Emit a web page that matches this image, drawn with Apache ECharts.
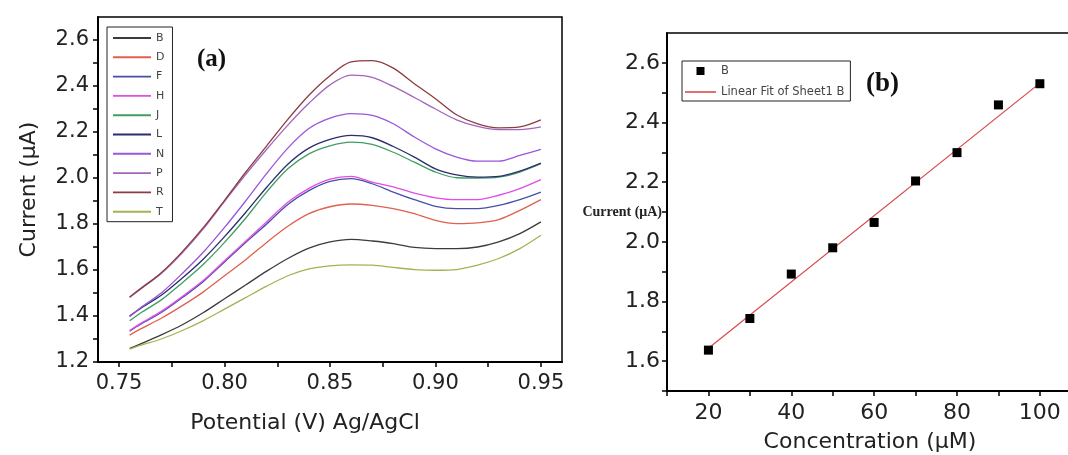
<!DOCTYPE html>
<html>
<head>
<meta charset="utf-8">
<script src="https://cdn.jsdelivr.net/npm/echarts@6/dist/echarts.min.js"></script>
<style>
html,body{margin:0;padding:0;background:#fff;}
#chart{width:1068px;height:455px;}
</style>
</head>
<body>
<div id="chart"></div>
<script>
// ---------- Panel (a) data ----------
const potential = [0.755,0.76,0.77,0.78,0.79,0.80,0.81,0.82,0.83,0.84,0.85,0.86,0.87,0.88,0.89,0.90,0.91,0.92,0.93,0.94,0.95];
const curveNames = ['B','D','F','H','J','L','N','P','R','T'];
const curveB = [1.259,1.278,1.318,1.362,1.415,1.475,1.535,1.595,1.650,1.695,1.722,1.733,1.726,1.715,1.698,1.693,1.693,1.700,1.722,1.758,1.809];
const curveD = [1.317,1.343,1.390,1.445,1.505,1.575,1.645,1.720,1.790,1.845,1.875,1.887,1.881,1.867,1.845,1.816,1.802,1.805,1.819,1.859,1.906];
const curveF = [1.334,1.363,1.415,1.480,1.550,1.635,1.720,1.800,1.885,1.945,1.985,1.997,1.975,1.939,1.906,1.877,1.867,1.867,1.881,1.906,1.939];
const curveH = [1.337,1.367,1.420,1.485,1.555,1.640,1.725,1.810,1.895,1.955,1.995,2.007,1.982,1.961,1.934,1.914,1.906,1.906,1.925,1.954,1.993];
const curveJ = [1.379,1.412,1.470,1.545,1.625,1.720,1.825,1.940,2.040,2.105,2.140,2.156,2.146,2.112,2.069,2.026,2.001,2.000,2.004,2.026,2.062];
const curveL = [1.400,1.432,1.490,1.565,1.648,1.745,1.850,1.960,2.060,2.130,2.168,2.185,2.175,2.137,2.091,2.040,2.014,2.004,2.007,2.030,2.065];
const curveN = [1.397,1.435,1.500,1.585,1.678,1.785,1.900,2.020,2.130,2.215,2.260,2.280,2.272,2.236,2.178,2.127,2.091,2.073,2.073,2.098,2.124];
const curveP = [1.480,1.515,1.585,1.675,1.780,1.898,2.015,2.125,2.230,2.325,2.405,2.447,2.438,2.398,2.350,2.300,2.253,2.224,2.210,2.210,2.222];
const curveR = [1.483,1.518,1.588,1.680,1.785,1.903,2.025,2.140,2.255,2.360,2.445,2.505,2.510,2.478,2.410,2.345,2.275,2.235,2.218,2.222,2.253];
const curveT = [1.256,1.272,1.300,1.337,1.380,1.430,1.480,1.530,1.575,1.605,1.618,1.622,1.621,1.611,1.602,1.599,1.602,1.621,1.650,1.693,1.751];
const curveValues = [curveB,curveD,curveF,curveH,curveJ,curveL,curveN,curveP,curveR,curveT];
const curveColors = ['#3c3c3c','#e0604f','#4a4fa6','#e04ee6','#3f9e62','#2c2c6e','#9a55dc','#a066bc','#8c3c3e','#a3b352'];

const xTicksA = [0.75,0.775,0.80,0.825,0.85,0.875,0.90,0.925,0.95];
const xLabelsA = [0.75,0.80,0.85,0.90,0.95];
const yTicksA = [1.2,1.3,1.4,1.5,1.6,1.7,1.8,1.9,2.0,2.1,2.2,2.3,2.4,2.5,2.6];
const yLabelsA = [1.2,1.4,1.6,1.8,2.0,2.2,2.4,2.6];

// ---------- Panel (b) data ----------
const concentration = [20,30,40,50,60,70,80,90,100];
const currentB = [1.637,1.743,1.892,1.980,2.065,2.204,2.299,2.459,2.530];
const fitX = [20,100];
const fitY = [1.643,2.532];
const xTicksB = [10,20,30,40,50,60,70,80,90,100];
const xLabelsB = [20,40,60,80,100];
const yTicksB = [1.5,1.6,1.7,1.8,1.9,2.0,2.1,2.2,2.3,2.4,2.5,2.6];
const yLabelsB = [1.6,1.8,2.0,2.2,2.4,2.6];

const FONT = 'DejaVu Sans, Liberation Sans, sans-serif';
const SERIF = 'Liberation Serif, Times New Roman, serif';
const LINE_ICON = 'path://M0,0L60,0L60,3L0,3Z';
const SQUARE_ICON = 'path://M0,0L10,0L10,10L0,10Z';

const chart = echarts.init(document.getElementById('chart'), null, {renderer:'canvas'});

const curveSeries = curveNames.map((n,i)=>({
  name:n, type:'line', xAxisIndex:0, yAxisIndex:0,
  data: potential.map((x,k)=>[x, curveValues[i][k]]),
  showSymbol:false, symbol:'none', smooth:0.3,
  lineStyle:{color:curveColors[i], width:1.3},
  itemStyle:{color:curveColors[i]},
  emphasis:{disabled:true}, animation:false
}));

const option = {
  animation:false,
  backgroundColor:'#fff',
  grid:[
    {left:98, right:506, top:17, bottom:93, show:true, borderColor:'#000', borderWidth:1.5, backgroundColor:'transparent', containLabel:false, outerBoundsMode:'none'},
    {left:667, right:-5, top:33, bottom:64, show:true, borderColor:'#000', borderWidth:1.5, backgroundColor:'transparent', containLabel:false, outerBoundsMode:'none'}
  ],
  xAxis:[
    {type:'value', gridIndex:0, min:0.74, max:0.96,
     name:'Potential (V) Ag/AgCl', nameLocation:'middle', nameGap:50, nameMoveOverlap:false,
     nameTextStyle:{fontFamily:FONT, fontSize:22, color:'#222', padding:[0,50,0,0]},
     axisLine:{lineStyle:{color:'#000', width:2}},
     axisTick:{show:true, length:5, inside:false, customValues:xTicksA, lineStyle:{color:'#000', width:1.5}},
     axisLabel:{customValues:xLabelsA, formatter:v=>Number(v).toFixed(2), fontFamily:FONT, fontSize:21, color:'#222', margin:11},
     splitLine:{show:false}},
    {type:'value', gridIndex:1, min:10, max:108,
     name:'Concentration (\u03bcM)', nameLocation:'middle', nameGap:40, nameMoveOverlap:false,
     nameTextStyle:{fontFamily:FONT, fontSize:22, color:'#222'},
     axisLine:{lineStyle:{color:'#000', width:2}},
     axisTick:{show:true, length:5, inside:false, customValues:xTicksB, lineStyle:{color:'#000', width:1.5}},
     axisLabel:{customValues:xLabelsB, formatter:v=>String(Math.round(v)), fontFamily:FONT, fontSize:22, color:'#222', margin:11},
     splitLine:{show:false}}
  ],
  yAxis:[
    {type:'value', gridIndex:0, min:1.2, max:2.7,
     name:'Current (\u03bcA)', nameLocation:'middle', nameGap:58, nameMoveOverlap:false,
     nameTextStyle:{fontFamily:FONT, fontSize:22, color:'#222'},
     axisLine:{lineStyle:{color:'#000', width:2}},
     axisTick:{show:true, length:5, inside:false, customValues:yTicksA, lineStyle:{color:'#000', width:1.5}},
     axisLabel:{customValues:yLabelsA, formatter:v=>Number(v).toFixed(1), fontFamily:FONT, fontSize:21, color:'#222', margin:9},
     splitLine:{show:false}},
    {type:'value', gridIndex:1, min:1.5, max:2.7,
     name:'Current (\u03bcA)', nameLocation:'middle', nameGap:5, nameRotate:0, nameMoveOverlap:false,
     nameTextStyle:{fontFamily:SERIF, fontSize:14, fontWeight:'bold', color:'#222', align:'right', verticalAlign:'middle'},
     axisLine:{lineStyle:{color:'#000', width:2}},
     axisTick:{show:true, length:5, inside:false, customValues:yTicksB, lineStyle:{color:'#000', width:1.5}},
     axisLabel:{customValues:yLabelsB, formatter:v=>Number(v).toFixed(1), fontFamily:FONT, fontSize:22, color:'#222', margin:7},
     splitLine:{show:false}}
  ],
  legend:[
    {data:curveNames.map(n=>({name:n, icon:LINE_ICON})), orient:'vertical', left:107, top:27,
     itemWidth:38, itemHeight:12, itemGap:7.3, symbolKeepAspect:true,
     padding:[5,8,4,6], backgroundColor:'#fff', borderColor:'#222', borderWidth:1,
     textStyle:{fontFamily:FONT, fontSize:11, color:'#444', lineHeight:12},
     selectedMode:false},
    {data:[{name:'B', icon:SQUARE_ICON, itemStyle:{color:'#000'}}, {name:'Linear Fit of Sheet1 B', icon:LINE_ICON}],
     orient:'vertical', left:682, top:61,
     itemWidth:31, itemHeight:8, itemGap:9, symbolKeepAspect:true,
     padding:[4,6,3,3], backgroundColor:'#fff', borderColor:'#222', borderWidth:1,
     textStyle:{fontFamily:FONT, fontSize:11.5, color:'#444', lineHeight:10},
     selectedMode:false}
  ],
  graphic:[
    {type:'text', left:197, top:47, style:{text:'(a)', font:'bold 25px '+SERIF, fill:'#111'}},
    {type:'text', left:866, top:71, style:{text:'(b)', font:'bold 27px '+SERIF, fill:'#111'}}
  ],
  series: curveSeries.concat([
    {name:'Linear Fit of Sheet1 B', type:'line', xAxisIndex:1, yAxisIndex:1,
     data: fitX.map((x,k)=>[x, fitY[k]]), showSymbol:false, symbol:'none',
     lineStyle:{color:'#d9474c', width:1.2}, itemStyle:{color:'#d9474c'}, z:2},
    {name:'B', type:'scatter', xAxisIndex:1, yAxisIndex:1,
     data: concentration.map((x,k)=>[x, currentB[k]]),
     symbol:'rect', symbolSize:9, itemStyle:{color:'#000', opacity:1}, z:3}
  ])
};
chart.setOption(option);
</script>
</body>
</html>
